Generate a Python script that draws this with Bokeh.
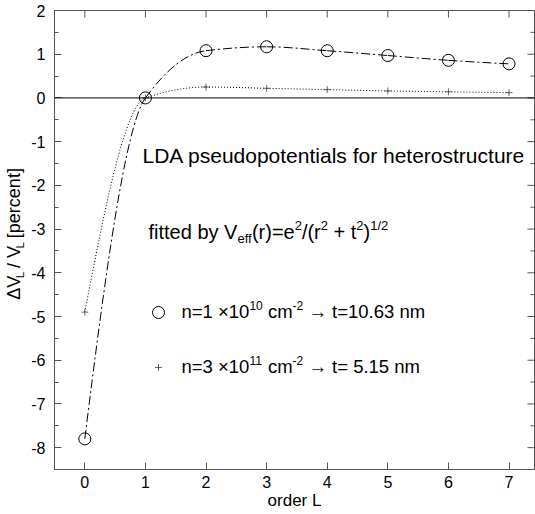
import numpy as np
from bokeh.plotting import figure
from bokeh.layouts import row
from bokeh.models import Range1d, FixedTicker, Span, Label
from bokeh.embed import file_html
from bokeh.resources import INLINE

# ---------------- data ----------------
order_L = [0, 1, 2, 3, 4, 5, 6, 7]
dv_n1e10 = [-7.8, 0.0, 1.08, 1.17, 1.08, 0.97, 0.86, 0.78]   # circles, t=10.63 nm
dv_n3e11 = [-4.9, 0.0, 0.25, 0.22, 0.19, 0.16, 0.14, 0.12]   # crosses, t=5.15 nm
x_ticks = [0, 1, 2, 3, 4, 5, 6, 7]
y_ticks = [2, 1, 0, -1, -2, -3, -4, -5, -6, -7, -8]
y_tick_labels = ["2", "1", "0", "-1", "-2", "-3", "-4", "-5", "-6", "-7", "-8"]
y_minor = [t - 0.5 for t in y_ticks] + [2.0]

X0, X1 = -0.5, 7.42
Y0, Y1 = -8.5, 2.0

# ---------------- layout ----------------
TOTAL_W, TOTAL_H = 535, 514
LW = 27                      # width of the y-title strip
W, H = TOTAL_W - LW, TOTAL_H
BL, BR, BT, BB = 27, 1, 10, 45
FL = LW + BL                 # frame left in page px
FT = BT                      # frame top in page px
FW = W - BL - BR
FH = H - BT - BB

def dx(px):
    return X0 + (px - FL) / FW * (X1 - X0)

def dy(py):
    return Y1 - (py - FT) / FH * (Y1 - Y0)

FONT = "Liberation Sans"
AX = "#555555"

p = figure(width=W, height=H, output_backend="svg", toolbar_location=None,
           x_range=Range1d(X0, X1), y_range=Range1d(Y0, Y1),
           min_border_left=BL, min_border_right=BR, min_border_top=BT, min_border_bottom=BB)
p.grid.visible = False
p.outline_line_color = AX
p.background_fill_color = "white"
p.border_fill_color = "white"

for ax in (p.xaxis[0], p.yaxis[0]):
    ax.axis_line_color = AX
    ax.major_tick_line_color = AX
    ax.minor_tick_line_color = AX
    ax.major_tick_in = 7
    ax.major_tick_out = 0
    ax.minor_tick_in = 4
    ax.minor_tick_out = 0
    ax.major_label_text_font = FONT
    ax.major_label_text_font_size = "16px"
    ax.major_label_text_color = "black"

p.xaxis.ticker = FixedTicker(ticks=x_ticks, minor_ticks=[])
p.yaxis.ticker = FixedTicker(ticks=y_ticks, minor_ticks=y_minor)
p.xaxis.major_label_standoff = 6
p.yaxis.major_label_standoff = 9
p.yaxis.major_label_overrides = {t: s for t, s in zip(y_ticks, y_tick_labels)}
p.xaxis.axis_label = "order L"
p.xaxis.axis_label_text_font = FONT
p.xaxis.axis_label_text_font_size = "17px"
p.xaxis.axis_label_text_font_style = "normal"
p.xaxis.axis_label_text_color = "black"
p.xaxis.axis_label_standoff = 0

# ticks on the top and right edges of the frame
ky = (Y1 - Y0) / FH
kx = (X1 - X0) / FW
p.segment(x0=x_ticks, y0=[Y1] * len(x_ticks), x1=x_ticks,
          y1=[Y1 - 7 * ky] * len(x_ticks), line_color=AX, line_width=1)
p.segment(x0=[X1] * len(y_ticks), y0=y_ticks, x1=[X1 - 7 * kx] * len(y_ticks),
          y1=y_ticks, line_color=AX, line_width=1)
p.segment(x0=[X1] * len(y_minor), y0=y_minor, x1=[X1 - 4 * kx] * len(y_minor),
          y1=y_minor, line_color=AX, line_width=1)

# zero line
p.add_layout(Span(location=0, dimension="width", line_color="black", line_width=1))

# ---------------- smooth curves (monotone cubic Hermite drawn as Bezier) ----------------
def pchip_bezier(xs, ys):
    xs = np.asarray(xs, float); ys = np.asarray(ys, float)
    h = np.diff(xs)
    dl = np.diff(ys) / h
    n = len(xs)
    d = np.zeros(n)
    for i in range(1, n - 1):
        if dl[i - 1] * dl[i] > 0:
            w1 = 2 * h[i] + h[i - 1]
            w2 = h[i] + 2 * h[i - 1]
            d[i] = (w1 + w2) / (w1 / dl[i - 1] + w2 / dl[i])
    d[0] = ((2 * h[0] + h[1]) * dl[0] - h[0] * dl[1]) / (h[0] + h[1])
    d[-1] = ((2 * h[-1] + h[-2]) * dl[-1] - h[-1] * dl[-2]) / (h[-1] + h[-2])
    return dict(x0=xs[:-1], y0=ys[:-1], x1=xs[1:], y1=ys[1:],
                cx0=xs[:-1] + h / 3, cy0=ys[:-1] + d[:-1] * h / 3,
                cx1=xs[1:] - h / 3, cy1=ys[1:] - d[1:] * h / 3)

p.bezier(**pchip_bezier(order_L, dv_n1e10), line_color="black", line_width=1,
         line_dash="9 3 2 3")
p.bezier(**pchip_bezier(order_L, dv_n3e11), line_color="black", line_width=1,
         line_dash="1 2")

p.scatter(order_L, dv_n1e10, marker="circle", size=12, fill_color=None,
          line_color="black", line_width=1)
p.scatter(order_L, dv_n3e11, marker="cross", size=7, line_color="#444444",
          line_width=0.8)

# ---------------- rich text helper ----------------
CW = {' ': 278, '(': 333, ')': 333, '+': 584, '-': 333, '.': 278, '/': 278,
      '=': 584, '[': 278, ']': 278, 'A': 667, 'D': 722, 'L': 556, 'V': 667,
      'a': 556, 'b': 556, 'c': 500, 'd': 556, 'e': 556, 'f': 278, 'h': 556,
      'i': 222, 'l': 222, 'm': 833, 'n': 556, 'o': 556, 'p': 556, 'r': 333,
      's': 500, 't': 278, 'u': 556, 'y': 500, '\u00d7': 584, '\u2192': 1000,
      '\u0394': 668}

def tw(s, size):
    return sum(CW.get(c, 556) for c in s) / 1000 * size

BASE_FIX = 0.32   # renderer places the alphabetic baseline this many em too low

def rich(fig, conv_x, conv_y, pieces, px0, py0, size, rot=False):
    cur = 0.0
    for txt, kind in pieces:
        s = size if kind == "n" else size * 0.65
        off = 0 if kind == "n" else (-0.22 * size if kind == "sub" else 0.42 * size)
        off += BASE_FIX * s
        lead = len(txt) - len(txt.lstrip(" "))
        cur += tw(" " * lead, s)
        core = txt.strip(" ")
        if core:
            if rot:
                X, Y = px0 - off, py0 - cur
            else:
                X, Y = px0 + cur, py0 - off
            fig.add_layout(Label(x=conv_x(X), y=conv_y(Y), text=core, text_font=FONT,
                                 text_font_size=f"{s:.1f}px", text_color="black",
                                 text_baseline="alphabetic", text_align="left",
                                 angle=(np.pi / 2 if rot else 0)))
            cur += tw(core, s)
            trail = len(txt) - len(txt.rstrip(" "))
            cur += tw(" " * trail, s)

# annotation texts inside the frame
rich(p, dx, dy, [("LDA pseudopotentials for heterostructure", "n")], 142, 162, 21)
rich(p, dx, dy, [("fitted by V", "n"), ("eff", "sub"), ("(r)=e", "n"), ("2", "sup"),
                 ("/(r", "n"), ("2", "sup"), (" + t", "n"), ("2", "sup"), (")", "n"),
                 ("1/2", "sup")], 148, 238, 20)
rich(p, dx, dy, [("n=1 ", "n"), ("\u00d710", "n"), ("10", "sup"), (" cm", "n"),
                 ("-2", "sup"), (" \u2192 t=10.63 nm", "n")], 181, 317, 18.5)
rich(p, dx, dy, [("n=3 ", "n"), ("\u00d710", "n"), ("11", "sup"), (" cm", "n"),
                 ("-2", "sup"), (" \u2192 t= 5.15 nm", "n")], 181, 372, 18.5)

# legend keys
p.scatter([dx(158)], [dy(312)], marker="circle", size=12, fill_color=None,
          line_color="black", line_width=1)
p.scatter([dx(158)], [dy(367)], marker="cross", size=7, line_color="#444444",
          line_width=0.8)

# ---------------- y title strip ----------------
lab = figure(width=LW, height=H, output_backend="svg", toolbar_location=None,
             x_range=Range1d(0, LW), y_range=Range1d(0, H),
             min_border_left=0, min_border_right=0, min_border_top=0, min_border_bottom=0)
lab.axis.visible = False
lab.grid.visible = False
lab.outline_line_color = None
lab.background_fill_color = "white"
lab.border_fill_color = "white"
rich(lab, lambda v: v, lambda v: H - v,
     [("\u0394V", "n"), ("L", "sub"), (" / V", "n"), ("L", "sub"), (" [percent]", "n")],
     19, 324, 18, rot=True)

layout = row(lab, p)
open("out.html", "w").write(file_html(layout, INLINE))
